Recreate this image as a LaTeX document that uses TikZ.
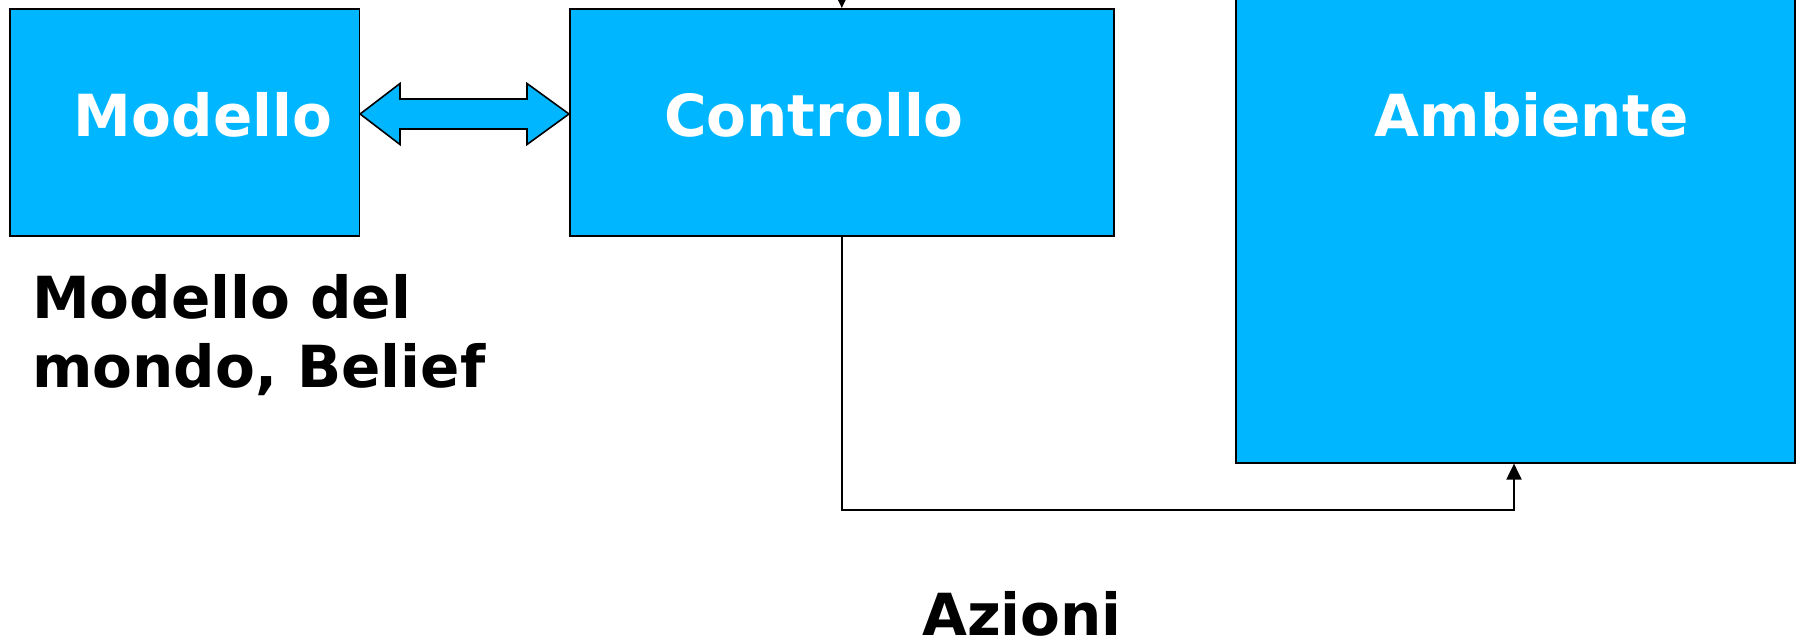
\documentclass[tikz,border=0pt]{standalone}
\usepackage{fontspec}
\setmainfont{DejaVu Sans}
\usetikzlibrary{arrows.meta}
\definecolor{boxblue}{RGB}{0,183,255}
\begin{document}
\begin{tikzpicture}[x=1pt,y=-1pt,
  block/.style={draw=black,line width=1.6pt,fill=boxblue,inner sep=0pt,anchor=north west},
  boxlabel/.style={text=white,font=\bfseries\fontsize{58}{69}\selectfont,inner sep=0pt,anchor=base},
  caption/.style={text=black,font=\bfseries\fontsize{58}{69}\selectfont,inner sep=0pt},
  flow/.style={draw=black,line width=2pt,-{Triangle[length=16pt,width=15pt]}}]
\useasboundingbox (0,0) rectangle (1796,639);

% blocks
\node[block,minimum width=349.5pt,minimum height=227pt] (mod) at (9,8) {};
\node[block,minimum width=544pt,minimum height=227pt] (ctl) at (569,8) {};
\node[block,minimum width=559pt,minimum height=472pt] (amb) at (1235,-10) {};

% block titles
\node[boxlabel] (tmod) at (203,137) {Modello};
\node[boxlabel] (tctl) at (814,137) {Controllo};
\node[boxlabel] (tamb) at (1532,137) {Ambiente};

% two-way link between model and control
\draw[fill=boxblue,line width=1.6pt,line join=miter]
  (mod.east |- 0,114) -- (400,83.5) -- (400,99) -- (527,99) -- (527,83.5)
  -- (ctl.west |- 0,114) -- (527,144.5) -- (527,129) -- (400,129) -- (400,144.5) -- cycle;

% incoming line into control
\coordinate (in) at (ctl.north |- 0,-30);
\draw[flow] (in) -- (ctl.north);

% actions from control to the environment
\draw[flow] (ctl.south) |- (1514,510) -- (amb.south -| 1514,0);

% captions
\node[caption,align=left,anchor=north west] (belief) at (32,274) {Modello del\\mondo, Belief};
\node[caption,anchor=base] (azioni) at (1022,635) {Azioni};
\end{tikzpicture}
\end{document}
